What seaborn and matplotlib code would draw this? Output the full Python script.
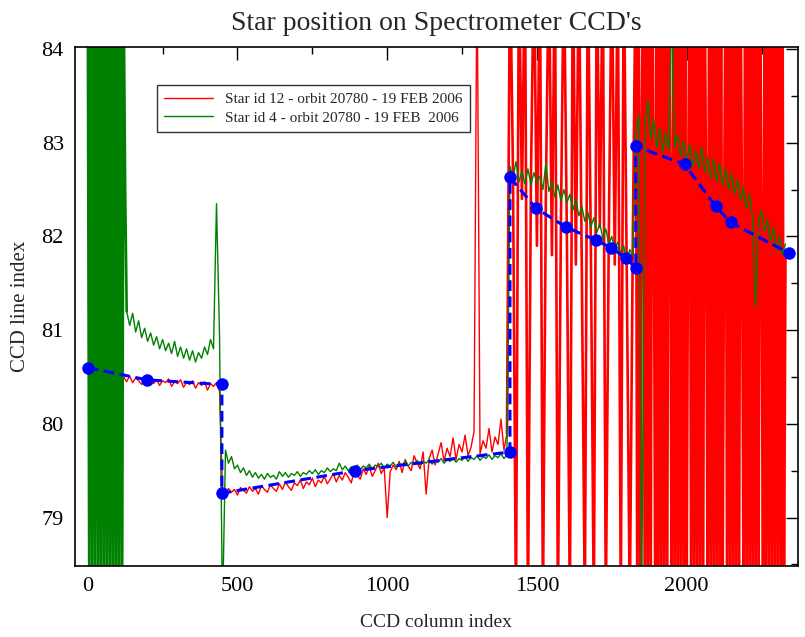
import numpy as np
import seaborn as sns
import matplotlib.pyplot as plt
from matplotlib.ticker import MultipleLocator

# Star id 12 (red)
red_a = [80.62, 80.55, 80.58, 80.52, 80.56, 80.50, 80.54, 80.49, 80.53, 80.47,
         80.52, 80.46, 80.50, 80.45, 80.51, 80.44, 80.49, 80.46, 80.42, 80.48,
         80.45, 80.50, 80.43, 80.47, 80.41, 80.46, 80.44, 80.48, 80.40, 80.45,
         80.43, 80.47, 80.39, 80.44, 80.42, 80.46, 80.38, 80.44, 80.41, 80.45,
         80.36, 80.43, 80.40, 80.44, 80.35]
red_b = [79.28, 79.25, 79.31, 79.27, 79.30, 79.24, 79.32, 79.29, 79.26, 79.33,
         79.28, 79.31, 79.25, 79.34, 79.30, 79.27, 79.35, 79.31, 79.28, 79.36,
         79.30, 79.38, 79.33, 79.29, 79.37, 79.34, 79.40, 79.31, 79.38, 79.35,
         79.42, 79.33, 79.40, 79.37, 79.44, 79.36, 79.41, 79.47, 79.38, 79.45,
         79.40, 79.48, 79.43, 79.37, 79.50, 79.45, 79.41, 79.52, 79.46, 79.55,
         79.44, 79.50, 79.58, 79.47, 79.53, 79.00, 79.49, 79.56, 79.51, 79.60,
         79.48, 79.62, 79.55, 79.50, 79.66, 79.58, 79.52, 79.70, 79.25, 79.63,
         79.72, 79.56, 79.68, 79.80, 79.60, 79.74, 79.65, 79.85, 79.62, 79.78,
         79.70, 79.88, 79.66, 79.75, 79.92, 85.00, 79.68, 79.82, 79.74, 79.95,
         79.70, 79.86, 79.78, 80.05, 79.72, 79.90]
red_c = [85.0, 82.7, 78.0, 85.0, 82.4, 85.0, 78.0, 82.6, 85.0, 81.9,
         85.0, 78.0, 82.5, 85.0, 81.8, 85.0, 78.0, 82.1, 85.0, 82.0,
         78.0, 85.0, 81.7, 85.0, 81.6, 78.0, 85.0, 81.9, 78.0, 85.0,
         82.1, 85.0, 78.0, 82.0, 85.0, 81.7, 85.0, 78.0, 85.0, 81.6,
         78.0, 81.9]
red_d = [85, 78, 85, 78, 83.2, 85, 78, 85, 78, 85,
         78, 85, 82.8, 78, 85, 78, 85, 78, 85, 78,
         85, 78, 85, 82.6, 78, 85, 78, 85, 78, 85,
         78, 85, 78, 85, 78, 82.5, 85, 78, 85, 78,
         85, 78, 85, 78, 85, 78, 85, 82.4, 78, 85,
         78, 85, 78, 85, 78, 85, 78, 85, 78, 82.2,
         85, 78, 85, 78, 85, 78, 85, 78, 85, 78,
         85, 82.1, 78, 85, 78, 85, 78, 85, 78, 85,
         78, 85, 78, 85, 82.0, 78, 85, 78, 85, 78,
         85, 78, 85, 78, 85, 78, 85, 78, 85, 78, 81.8]

# Star id 4 (green)
green_a = [84.8, 78.2, 85.0, 78.0, 84.6, 78.4, 85.0, 78.1, 84.9, 78.0,
           85.0, 78.3, 84.7, 78.0, 85.0, 78.2, 84.8, 78.0, 85.0, 78.1,
           84.9, 78.0, 85.0, 78.3, 84.6, 82.5]
green_b = [81.20, 81.05, 81.18, 80.98, 81.10, 80.92, 81.02, 80.88, 80.97, 80.84,
           80.93, 80.80, 80.90, 80.78, 80.86, 80.75, 80.88, 80.72, 80.82, 80.70,
           80.80, 80.68, 80.78, 80.66, 80.76, 80.70, 80.82, 80.74, 80.90, 80.80,
           82.35, 80.95]
green_c = [78.00, 79.72, 79.58, 79.65, 79.52, 79.56, 79.48, 79.53, 79.45, 79.50,
           79.43, 79.48, 79.42, 79.46, 79.41, 79.47, 79.43, 79.45, 79.41, 79.49,
           79.44, 79.48, 79.43, 79.47, 79.45, 79.49, 79.44, 79.48, 79.46, 79.50,
           79.47, 79.51, 79.46, 79.50, 79.48, 79.53, 79.49, 79.52, 79.50, 79.58,
           79.51, 79.55, 79.50, 79.54, 79.52, 79.56, 79.51, 79.55, 79.53, 79.57,
           79.52, 79.56, 79.54, 79.58, 79.53, 79.57, 79.55, 79.59, 79.54, 79.58,
           79.56, 79.60, 79.55, 79.59, 79.57, 79.61, 79.56, 79.60, 79.58, 79.62,
           79.57, 79.61, 79.59, 79.63, 79.58, 79.62, 79.60, 79.64, 79.59, 79.63,
           79.61, 79.65, 79.60, 79.64, 79.62, 79.66, 79.61, 79.65, 79.63, 79.67,
           79.62, 79.66, 79.64, 79.68, 79.63, 79.67]
green_d = [82.75, 82.62, 82.80, 82.58, 82.70, 82.56, 82.72, 82.55, 82.68, 82.58,
           82.64, 82.50, 82.78, 82.48, 82.58, 82.42, 82.55, 82.38, 82.50, 82.36,
           82.45, 82.28, 82.40, 82.22, 82.32, 82.16, 82.26, 82.10, 82.20, 82.04,
           82.14, 81.98, 82.08, 81.92, 82.00, 81.86, 81.94, 81.82, 81.90, 81.72,
           81.86, 81.80]
green_e = [83.10, 83.30, 78.00, 83.20, 83.45, 83.05, 83.25, 82.95, 83.15, 82.90,
           83.10, 82.92, 84.50, 82.95, 83.08, 82.85, 83.02, 82.80, 82.98, 82.75,
           82.92, 82.72, 82.95, 82.68, 82.85, 82.62, 82.82, 82.58, 82.78, 82.55,
           82.72, 82.50, 82.68, 82.45, 82.60, 82.38, 82.52, 82.30, 82.45, 82.20,
           81.25, 82.15, 82.28, 82.05, 82.18, 81.95, 82.10, 81.85, 82.00, 81.80,
           81.92]

# fitted positions (blue dashed)
fit_x = [0, 197, 448, 448, 893, 1410, 1410, 1497, 1597, 1697, 1747, 1797,
         1830, 1830, 1993, 2097, 2147, 2343]
fit_y = [80.60, 80.47, 80.42, 79.26, 79.50, 79.70, 82.63, 82.30, 82.10, 81.96,
         81.88, 81.77, 81.66, 82.96, 82.77, 82.32, 82.15, 81.82]

red_x = np.concatenate([np.arange(0, 450, 10), np.arange(450, 1410, 10),
                        np.arange(1410, 1830, 10), np.arange(1830, 2335, 5)])
red_y = np.array(red_a + red_b + red_c + red_d)
green_x = np.concatenate([np.arange(0, 130, 5), np.arange(130, 450, 10),
                          np.arange(450, 1410, 10), np.arange(1410, 1830, 10),
                          np.arange(1830, 2340, 10)])
green_y = np.array(green_a + green_b + green_c + green_d + green_e)

RED = "#ff0000"
GREEN = "#008000"

sns.set_theme(style="white")
plt.rcParams['font.family'] = ['Liberation Serif', 'DejaVu Serif']

fig = plt.figure(figsize=(8.05, 6.37), dpi=100)
ax = fig.add_axes([0.093, 0.111, 0.898, 0.815])

# red: quiet part thin, saturated part drawn a bit heavier so it fills like the original
n_calm = len(red_a) + len(red_b)
sns.lineplot(x=red_x[:n_calm + 1], y=red_y[:n_calm + 1], estimator=None, sort=False,
             color=RED, linewidth=1.0, label="Star id 12 - orbit 20780 - 19 FEB 2006", ax=ax)
sns.lineplot(x=red_x[n_calm - 1:], y=red_y[n_calm - 1:], estimator=None, sort=False,
             color=RED, linewidth=1.9, ax=ax)

n_wild = len(green_a)
sns.lineplot(x=green_x[:n_wild + 1], y=green_y[:n_wild + 1], estimator=None, sort=False,
             color=GREEN, linewidth=1.9, ax=ax)
sns.lineplot(x=green_x[n_wild:], y=green_y[n_wild:], estimator=None, sort=False,
             color=GREEN, linewidth=1.0, label="Star id 4 - orbit 20780 - 19 FEB  2006", ax=ax)

sns.lineplot(x=fit_x, y=fit_y, estimator=None, sort=False, color="#0000ff",
             linewidth=2.2, linestyle=(0, (3.5, 1.8)), marker="o", markersize=9,
             markeredgewidth=0, ax=ax)

ax.set_xlim(-43, 2371)
ax.set_ylim(78.48, 84.02)
ax.set_xticks([0, 500, 1000, 1500, 2000])
ax.set_yticks([79, 80, 81, 82, 83, 84])
ax.xaxis.set_minor_locator(MultipleLocator(250))
ax.yaxis.set_minor_locator(MultipleLocator(0.5))
ax.tick_params(which="both", direction="in", top=True, right=True,
               colors="black", labelsize=16, width=1)
ax.tick_params(which="major", length=9, pad=8)
ax.tick_params(which="minor", length=5)
for s in ax.spines.values():
    s.set_color("black")
    s.set_linewidth(1.2)

ax.set_title("Star position on Spectrometer CCD's", fontsize=20, pad=12)
ax.set_xlabel("CCD column index", fontsize=14, labelpad=13)
ax.set_ylabel("CCD line index", fontsize=15, labelpad=8)

leg = ax.legend(loc="upper left", bbox_to_anchor=(0.113, 0.927), fontsize=11,
                frameon=True, fancybox=False, handlelength=3.2, borderpad=0.5,
                labelspacing=0.3, borderaxespad=0)
leg.get_frame().set_edgecolor("black")
leg.get_frame().set_linewidth(1.0)

fig.savefig("out.png", dpi=100)
